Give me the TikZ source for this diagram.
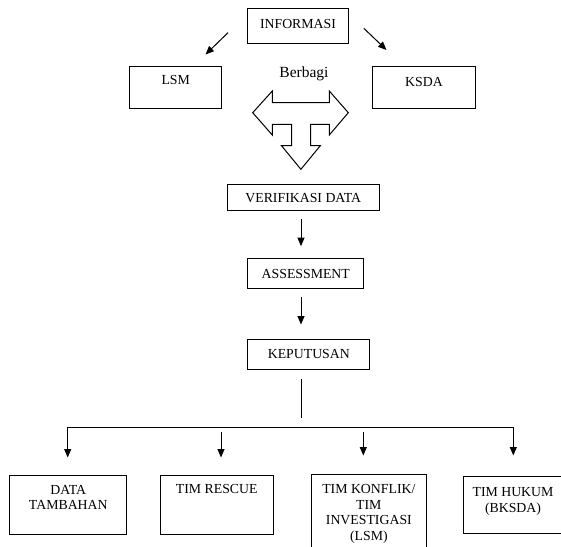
\documentclass[tikz,border=0pt]{standalone}
\usepackage{fontspec}
\setmainfont{Liberation Serif}
\usetikzlibrary{arrows.meta}
\begin{document}
\begin{tikzpicture}[x=1pt,y=-1pt,
  box/.style={draw, line width=1pt, inner sep=0pt, rectangle},
  lbl/.style={font=\fontsize{13.8}{15.5}\selectfont, align=center, inner sep=0pt},
  arr/.style={line width=1pt, -{Triangle[length=8.5pt,width=7pt]}},
  ln/.style={line width=1pt}]
\useasboundingbox (0,0) rectangle (561,546);
\clip (0,0) rectangle (561,546);

% top boxes
\node[box, minimum width=100.6pt, minimum height=35pt] (info) at (298,25.8) {};
\node[lbl] (infoT) at (298,23.5) {INFORMASI};
\node[box, minimum width=92.4pt, minimum height=42.3pt] (lsm) at (175.5,87.2) {};
\node[lbl] (lsmT) at (175.7,80) {LSM};
\node[box, minimum width=102.7pt, minimum height=42.3pt] (ksda) at (423.7,87.2) {};
\node[lbl] (ksdaT) at (424,81.5) {KSDA};

% diagonal arrows
\coordinate (a1s) at (228,32.7);
\coordinate (a1e) at (205.5,54.5);
\coordinate (a2s) at (363.8,28.3);
\coordinate (a2e) at (386.5,50);
\draw[arr] (a1s) -- (a1e);
\draw[arr] (a2s) -- (a2e);

% Berbagi and block arrow
\node[font=\fontsize{15.5}{17}\selectfont, inner sep=0pt, anchor=base] (berbagi) at (304,77) {Berbagi};
\draw[line width=1pt, line join=miter]
  (252.7,112.7) -- (272.3,91) -- (272.3,102.7) -- (329.3,102.7) -- (329.3,91)
  -- (348.3,112.7) -- (329.3,135) -- (329.3,124.3) -- (310.7,124.3) -- (310.7,145.7)
  -- (320.3,145.7) -- (300.9,169.3) -- (281.5,145.7) -- (291.7,145.7) -- (291.7,124.3)
  -- (272.3,124.3) -- (272.3,135) -- cycle;

% middle column
\node[box, minimum width=151.7pt, minimum height=25.7pt] (verif) at (303.2,197.2) {};
\node[lbl] (verifT) at (303.3,198) {VERIFIKASI DATA};
\node[box, minimum width=116.3pt, minimum height=29.7pt] (assess) at (305.8,273.8) {};
\node[lbl] (assessT) at (305.8,273.5) {ASSESSMENT};
\node[box, minimum width=121.6pt, minimum height=30pt] (keput) at (308.5,354.3) {};
\node[lbl] (keputT) at (308.8,354) {KEPUTUSAN};

\coordinate (colx) at (301,0);
\draw[arr, shorten <=8.3pt, shorten >=12.3pt] (verif.south -| colx) -- (assess.north -| colx);
\draw[arr, shorten <=8pt, shorten >=14.3pt] (assess.south -| colx) -- (keput.north -| colx);

% branch
\coordinate (hl) at (67.7,427);
\coordinate (hr) at (513.3,427);
\coordinate (r1) at (221,427);
\coordinate (r2) at (363.3,427);
\draw[ln, shorten <=9pt, shorten >=9pt] (keput.south -| colx) -- (hl -| colx);
\draw[ln, line cap=rect] (hl) -- (hr);

% bottom boxes
\node[box, minimum width=116.7pt, minimum height=59pt] (data) at (68.3,504.5) {};
\node[lbl] (dataT) at (68.3,497.5) {DATA\\TAMBAHAN};
\node[box, minimum width=113.3pt, minimum height=59pt] (rescue) at (216.7,504.5) {};
\node[lbl] (rescueT) at (216.7,489) {TIM RESCUE};
\node[box, minimum width=114.3pt, minimum height=84pt] (konflik) at (368.85,516) {};
\node[lbl] (konflikT) at (368.85,514) {TIM KONFLIK/\\TIM\\INVESTIGASI\\(LSM)};
\node[box, minimum width=102pt, minimum height=56.6pt] (hukum) at (514.3,505) {};
\node[lbl] (hukumT) at (513,501.5) {TIM HUKUM\\(BKSDA)};

\draw[arr, shorten >=17pt] (hl) -- (data.north -| hl);
\draw[arr, shorten <=4.7pt, shorten >=17pt] (r1) -- (rescue.north -| r1);
\draw[arr, shorten <=4.7pt, shorten >=18pt] (r2) -- (konflik.north -| r2);
\draw[arr, shorten >=20.7pt] (hr) -- (hukum.north -| hr);
\end{tikzpicture}
\end{document}
